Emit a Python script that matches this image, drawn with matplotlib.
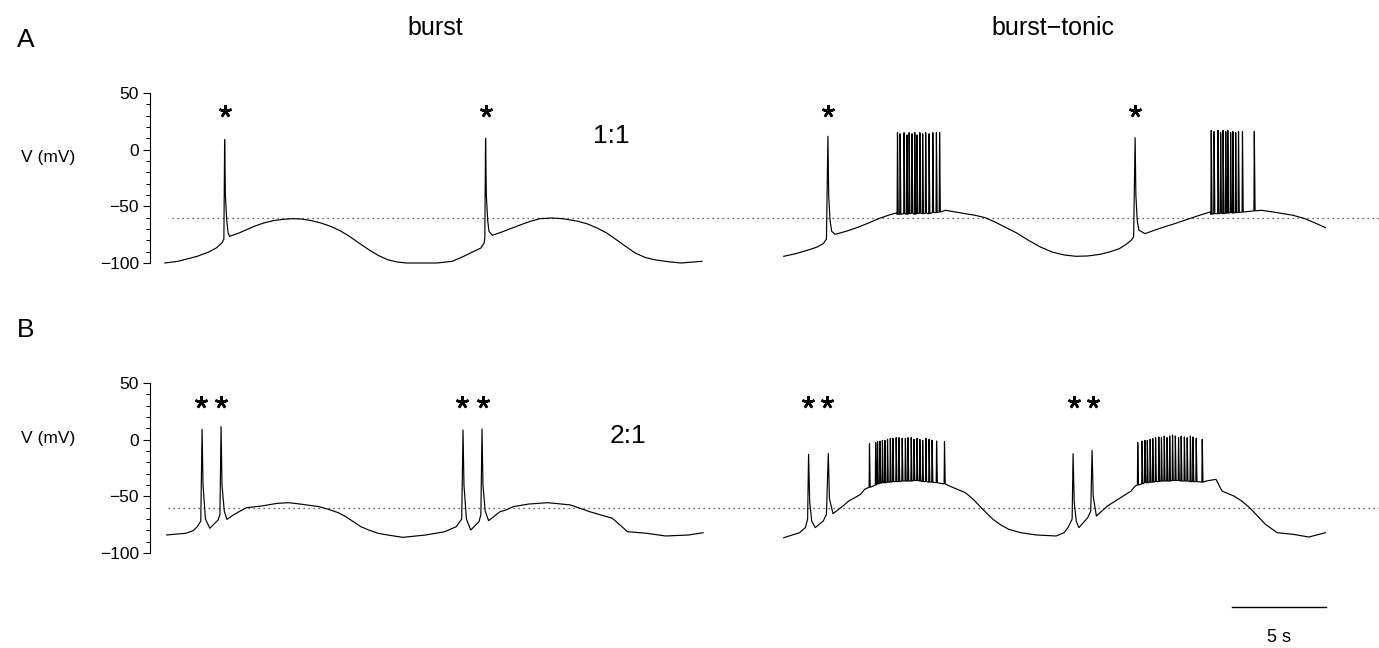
import numpy as np
import matplotlib
matplotlib.use("Agg")
import matplotlib.pyplot as plt
from matplotlib.ticker import FixedLocator

plt.rcParams['font.family'] = ['Liberation Sans', 'DejaVu Sans']

# ---------------- data (time in s, voltage in mV) ----------------
# Row A, "burst" (1:1)
a_burst_t = [0.79, 1.49, 2.51, 3.12, 3.52, 3.82, 3.93, 3.97, 4.01, 4.08, 4.15, 4.23, 4.74,
             5.55, 6.05, 6.56, 7.07, 7.57, 8.08, 8.59, 9.09, 9.60, 10.11, 10.61, 11.12,
             11.63, 12.13, 12.64, 13.15, 13.65, 15.27, 16.08, 16.69, 17.30, 17.60, 17.77,
             17.81, 17.85, 17.89, 17.96, 18.03, 18.21, 18.72, 19.73, 20.24, 20.74, 21.35,
             21.96, 22.77, 23.28, 23.78, 24.29, 24.80, 25.30, 25.81, 26.32, 26.82, 27.53,
             28.24, 29.36]
a_burst_v = [-100, -98.5, -94.1, -90.3, -86.8, -82.4, -79, 9, -40, -62, -73, -76.5, -73.5,
             -67.6, -64.7, -62.6, -61.5, -60.9, -61.2, -62.6, -64.7, -67.6, -71.5, -76.5, -82.4,
             -88.2, -93.2, -97.1, -99.1, -100, -100, -98.5, -94.1, -89.1, -86.8, -82.4,
             -78, 10, -40, -62, -72, -75.6, -72.6, -66.2, -63.2, -60.9, -60.3,
             -60.9, -63.2, -65.6, -69.1, -73.5, -79.4, -85.3, -91.2, -95, -97.1, -98.8,
             -100, -98.5]

# Row A, "burst-tonic"
a_bt_t = [33.71, 34.34, 34.97, 35.49, 35.81, 35.98, 36.06, 36.10, 36.17, 36.26, 36.44,
          37.07, 37.70, 38.22, 38.75, 39.27, 39.69,
          42.32, 42.84, 43.37, 43.89, 44.42, 44.94, 45.47, 46.10, 46.73, 47.36, 47.99,
          48.62, 49.25, 49.88, 50.51, 51.03, 51.56, 51.98, 52.19, 52.32, 52.40, 52.44,
          52.51, 52.60, 52.92, 53.66, 54.50, 55.02, 55.55, 55.97, 56.39,
          59.12, 59.75, 60.80, 61.43, 62.06, 62.52]
a_bt_v = [-94.1, -91.8, -88.8, -85.9, -82.9, -79, 11.8, -40, -62, -72, -74.7,
          -71.8, -68.2, -64.7, -60.9, -57.9, -55.9,
          -53.5, -55, -56.5, -57.9, -60, -63.8, -68.2, -73.5, -80, -85.9, -90.3,
          -92.9, -94.1, -93.8, -92.4, -90.3, -87.4, -82.9, -80, -77, 10.6, -40,
          -62, -71, -74.1, -69.7, -65.3, -62.4, -59.4, -57.1, -55,
          -53.5, -55, -57.9, -60.9, -65.3, -68.8]
a_tonic1_t = [39.76, 39.90, 40.11, 40.26, 40.38, 40.53, 40.68, 40.80, 40.95, 41.10, 41.26,
              41.44, 41.64, 41.83, 42.00]
a_tonic1_peak = [15, 14, 15, 13, 15, 14, 15, 13, 15, 14, 15, 14, 15, 15, 15]
a_tonic1_base = [-57, -57, -56.5, -57, -56.5, -56, -57, -56.5, -56, -56.5, -56, -56.5, -55.5,
                 -55.5, -55]
a_tonic2_t = [56.45, 56.60, 56.81, 56.95, 57.08, 57.22, 57.33, 57.48, 57.60, 57.75, 57.90,
              58.11, 58.74]
a_tonic2_peak = [17, 16, 17, 15, 17, 16, 17, 15, 16, 15, 16, 16, 16]
a_tonic2_base = [-57, -56.5, -56.5, -56, -56.5, -56, -56, -55.5, -56, -55.5, -55.5, -55, -54]

# Row B, "burst" (2:1)
b_burst_t = [0.89, 1.90, 2.30, 2.51, 2.70, 2.77, 2.82, 2.95, 3.18, 3.62, 3.72, 3.78, 3.83,
             3.95, 4.09, 4.43, 4.74, 5.14, 5.95, 6.76, 7.37, 7.98, 8.99, 9.50, 10.01, 10.41,
             10.82, 11.22, 11.63, 12.13, 12.64, 13.45, 14.67, 15.68, 16.29, 16.58, 16.65,
             16.70, 16.83, 17.06, 17.50, 17.60, 17.66, 17.71, 17.83, 18.01, 18.62, 18.92,
             19.33, 20.14, 21.15, 22.37, 23.38, 23.99, 24.60, 25.00, 25.40, 26.42, 27.43,
             28.65, 29.42]
b_burst_v = [-84.1, -82.6, -80.3, -76.8, -72, 9.1, -40, -70, -78.2, -70.9, -66, 11.5, -40,
             -63, -70.3, -66.5, -63.5, -60, -58.5, -56.2, -55.6, -56.8, -59.1, -61.5, -64.4,
             -67.9, -72.4, -76.8, -79.7, -82.6, -84.1, -86.2, -84.1, -81.2, -76.8, -70, 8.5,
             -40, -70, -79.7, -72.4, -66, 9.4, -40, -63, -71.5, -63.5, -62.1,
             -59.1, -56.8, -55.6, -57.6, -63.5, -66.5, -69.4, -75.3, -81.2, -82.6, -85,
             -84.1, -82.1]

# Row B, "burst-tonic"
b_bt_t = [33.71, 34.55, 34.86, 34.98, 35.03, 35.09, 35.20, 35.39, 35.81, 35.98, 36.08,
          36.14, 36.33, 36.86, 37.17, 37.49, 37.80, 38.01,
          42.53, 42.95, 43.37, 43.79, 44.21, 44.84, 45.26, 45.68, 46.31, 47.15, 48.20,
          48.62, 48.83, 49.05, 49.10, 49.16, 49.27, 49.41, 49.88, 50.04, 50.11, 50.17,
          50.34, 50.93, 51.35, 51.77, 52.19, 52.40,
          56.18, 56.70, 57.02, 57.65, 58.07, 58.49, 58.91, 59.33, 59.96, 60.80, 61.64,
          62.52]
b_bt_v = [-86.5, -82.1, -77.6, -70, -12.9, -55, -72, -77.6, -71.8, -66, -12.1,
          -52, -65.3, -58.5, -54.1, -51.2, -48.2, -43.8,
          -40.9, -43.8, -46.8, -52.6, -60, -70.3, -75.3, -79.1, -82.1, -84.1, -85,
          -82.1, -77.6, -70, -12.4, -55, -72, -77.6, -68.8, -63, -9.4, -50,
          -67.4, -58.5, -54.1, -49.7, -45.3, -40.9,
          -36.5, -35, -45.3, -49.7, -54.1, -60, -67.4, -74.7, -82.1, -83.5, -85.9,
          -82.1]
b_tonic1_t = [38.27, 38.60, 38.70, 38.83, 38.96, 39.09, 39.23, 39.38, 39.52, 39.69, 39.84,
              40.01, 40.18, 40.32, 40.49, 40.64, 40.80, 40.95, 41.10, 41.27, 41.44, 41.60,
              41.84, 42.26]
b_tonic1_peak = [-3.5, -2.6, -1.8, -1.2, -0.6, -0.6, 0.3, 1.2, 1.2, 1.8, 1.8, 1.2, 1.2, 1.8,
                 1.8, 0.3, 1.2, 0.3, -0.6, 1.2, 0.3, -0.6, -1.2, -1.8]
b_tonic1_base = [-42, -40, -39, -38.5, -38, -38, -37.5, -37.5, -37, -37, -37, -36.5, -36.5,
                 -36.5, -36.5, -36, -36, -36.5, -37, -37, -37.5, -37.5, -38, -39]
b_tonic2_t = [52.54, 52.77, 52.92, 53.05, 53.20, 53.34, 53.49, 53.66, 53.80, 53.95, 54.10,
              54.24, 54.39, 54.54, 54.71, 54.85, 55.02, 55.17, 55.34, 55.48, 55.65, 55.97]
b_tonic2_peak = [-2.6, -1.2, -0.6, -0.6, 0.3, 1.2, 1.8, 2.4, 1.8, 3.2, 1.8, 3.2, 4.1, 3.2,
                 1.8, 3.2, 2.4, 1.8, 3.2, 2.4, 1.2, 0.3]
b_tonic2_base = [-40, -39, -38, -38, -37.5, -37.5, -37, -37, -36.5, -36.5, -36.5, -36.5, -36,
                 -36, -36, -36.5, -36.5, -36.5, -37, -37, -37, -37.5]

# asterisks marking the bursts
a_star_t = [3.97, 17.85, 36.06, 52.39]
a_star_v = [34, 34, 34, 34]
b_star_t = [2.70, 3.76, 16.60, 17.72, 34.98, 36.03, 49.14, 50.16]
b_star_v = [33, 33, 33, 33, 33, 33, 33, 33]

threshold_mv = -60
ratio_labels = ["1:1", "2:1"]
column_titles = ["burst", "burst\u2212tonic"]
row_labels = ["A", "B"]
scale_bar_s = 5

# ---------------- layout ----------------
W, H = 1379, 648
PX_PER_S = 18.8
fig = plt.figure(figsize=(W / 100, H / 100), dpi=100)
xmax = (W - 150) / PX_PER_S


def build(t, v, spikes=()):
    pts = list(zip(t, v))
    for st, sp, sb in spikes:
        for ti, pi, bi in zip(st, sp, sb):
            pts += [(ti - 0.02, bi), (ti, pi), (ti + 0.04, bi)]
    pts.sort(key=lambda p: p[0])
    arr = np.array(pts)
    return arr[:, 0], arr[:, 1]


def make_axes(top_px):
    ax = fig.add_axes([150 / W, 1 - (top_px + 170) / H, (W - 150) / W, 170 / H])
    ax.set_xlim(0, xmax)
    ax.set_ylim(-100, 50)
    for s in ['top', 'right', 'bottom']:
        ax.spines[s].set_visible(False)
    ax.spines['left'].set_linewidth(0.8)
    ax.set_xticks([])
    ax.yaxis.set_major_locator(FixedLocator([-100, -50, 0, 50]))
    ax.yaxis.set_minor_locator(FixedLocator(list(range(-90, 50, 10))))
    ax.tick_params(axis='y', which='major', length=5, width=0.8, labelsize=12.5, pad=3)
    ax.tick_params(axis='y', which='minor', length=3, width=0.7)
    ax.patch.set_alpha(0)
    return ax


axA = make_axes(93)
axB = make_axes(383)

dot_kw = dict(ls=(0, (1, 3)), lw=0.9, color='#333333', clip_on=False)
axA.plot([1.15, xmax], [threshold_mv, threshold_mv], **dot_kw)
axB.plot([0.95, xmax], [threshold_mv, threshold_mv], **dot_kw)

line_kw = dict(color='black', lw=0.85, clip_on=False)
t, v = build(a_burst_t, a_burst_v)
axA.plot(t, v, **line_kw)
t, v = build(a_bt_t, a_bt_v, [(a_tonic1_t, a_tonic1_peak, a_tonic1_base),
                               (a_tonic2_t, a_tonic2_peak, a_tonic2_base)])
axA.plot(t, v, **line_kw)
t, v = build(b_burst_t, b_burst_v)
axB.plot(t, v, **line_kw)
t, v = build(b_bt_t, b_bt_v, [(b_tonic1_t, b_tonic1_peak, b_tonic1_base),
                               (b_tonic2_t, b_tonic2_peak, b_tonic2_base)])
axB.plot(t, v, **line_kw)

star_kw = dict(ls='none', marker=(5, 2, 0), ms=9, mew=1.8, color='black', clip_on=False)
axA.plot(a_star_t, a_star_v, **star_kw)
axB.plot(b_star_t, b_star_v, **star_kw)

label_x = -(150 - 48) / (W - 150)
for ax, frac in ((axA, 0.62), (axB, 0.675)):
    ax.set_ylabel("V (mV)", fontsize=12.5, rotation=0, ha='center', va='center')
    ax.yaxis.set_label_coords(label_x, frac)

# ratio labels
fig.text(611 / W, 1 - 143 / H, ratio_labels[0], fontsize=19, ha='center', va='baseline')
fig.text(628 / W, 1 - 443 / H, ratio_labels[1], fontsize=19, ha='center', va='baseline')

# column titles and row labels
fig.text(435 / W, 1 - 35 / H, column_titles[0], fontsize=18, ha='center', va='baseline')
fig.text(1053 / W, 1 - 35 / H, column_titles[1], fontsize=18, ha='center', va='baseline')
fig.text(17 / W, 1 - 47 / H, row_labels[0], fontsize=19, ha='left', va='baseline')
fig.text(17 / W, 1 - 337 / H, row_labels[1], fontsize=19, ha='left', va='baseline')

# scale bar
bar_x1 = (1326 - 150) / PX_PER_S
bar_x0 = bar_x1 - scale_bar_s
axB.plot([bar_x0, bar_x1], [-147.6, -147.6], color='black', lw=1.0, clip_on=False)
axB.text((bar_x0 + bar_x1) / 2, -175, f"{scale_bar_s} s", fontsize=13, ha='center',
         va='center', clip_on=False)

fig.savefig("out.png", dpi=100)
